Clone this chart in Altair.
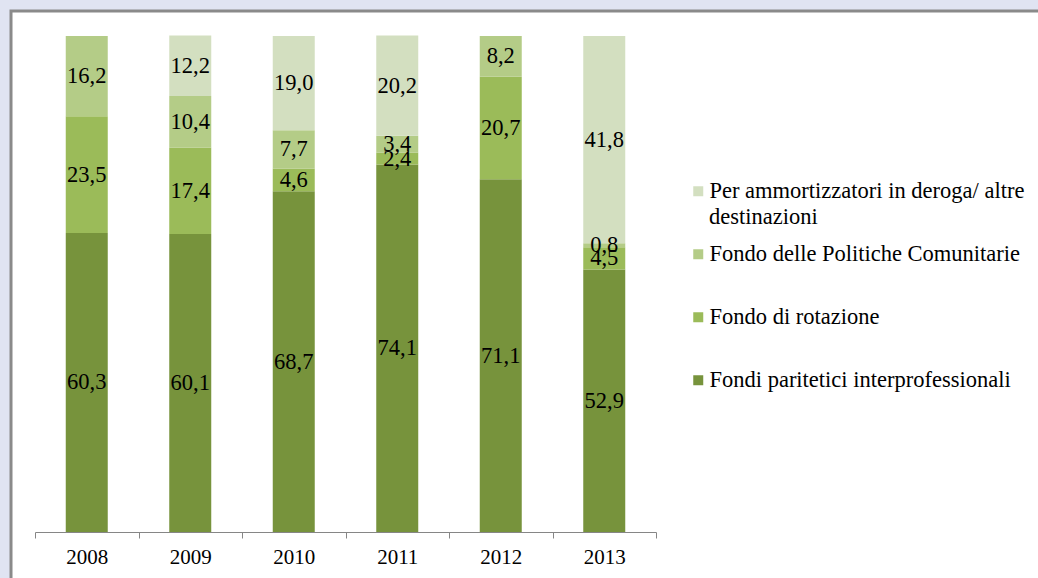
import altair as alt
import pandas as pd

years = ["2008", "2009", "2010", "2011", "2012", "2013"]
fondi_paritetici = [60.3, 60.1, 68.7, 74.1, 71.1, 52.9]
fondo_rotazione = [23.5, 17.4, 4.6, 2.4, 20.7, 4.5]
fondo_politiche = [16.2, 10.4, 7.7, 3.4, 8.2, 0.8]
ammortizzatori = [None, 12.2, 19.0, 20.2, None, 41.8]

# stacking order: bottom to top
series_names = [
    "Fondi paritetici interprofessionali",
    "Fondo di rotazione",
    "Fondo delle Politiche Comunitarie",
    "Per ammortizzatori in deroga/ altre destinazioni",
]
series_values = [fondi_paritetici, fondo_rotazione, fondo_politiche, ammortizzatori]
series_colors = ["#77933C", "#9BBB59", "#B4CC87", "#D3DFC0"]

# the long legend label is shown on two lines
legend_line1 = "Per ammortizzatori in deroga/ altre"
legend_line2 = "destinazioni"

rows = []
for i, yr in enumerate(years):
    for k, (name, vals) in enumerate(zip(series_names, series_values)):
        if vals[i] is not None:
            rows.append({"year": yr, "series": name, "value": vals[i], "order": k})
df = pd.DataFrame(rows)

legend_order = list(reversed(series_names))
legend_colors = list(reversed(series_colors))

SERIF = "Liberation Serif"

base = alt.Chart(df).transform_stack(
    stack="value",
    groupby=["year"],
    as_=["y0", "y1"],
    sort=[alt.SortField("order", order="ascending")],
).transform_calculate(
    mid="(datum.y0 + datum.y1) / 2",
    label="replace(format(datum.value, '.1f'), '.', ',')",
)

xenc = alt.X(
    "year:N",
    title=None,
    sort=years,
    scale=alt.Scale(paddingInner=0, paddingOuter=0),
    axis=alt.Axis(
        labelFont=SERIF,
        labelFontSize=21,
        labelColor="#000000",
        labelAngle=0,
        labelPadding=8,
        domainColor="#868686",
        domainWidth=1,
        tickColor="#868686",
        tickSize=6,
        tickBand="extent",
        grid=False,
        zindex=2,
    ),
)

yscale = alt.Scale(domain=[0, 100], nice=False, zero=True)

bars = base.mark_bar(size=42).encode(
    x=xenc,
    y=alt.Y("y0:Q", scale=yscale, axis=None),
    y2="y1:Q",
    color=alt.Color(
        "series:N",
        scale=alt.Scale(domain=legend_order, range=legend_colors),
        legend=alt.Legend(
            title=None,
            orient="none",
            legendX=648,
            legendY=144,
            symbolType="square",
            symbolSize=100,
            symbolStrokeWidth=0,
            symbolOffset=4,
            labelFont=SERIF,
            labelFontSize=22.5,
            labelColor="#000000",
            labelLimit=500,
            labelOffset=0,
            rowPadding=40,
            padding=0,
            labelExpr=f"datum.label == '{series_names[3]}' ? '{legend_line1}' : datum.label",
        ),
    ),
)

text = base.mark_text(font=SERIF, fontSize=22.5, color="#000000", baseline="middle").encode(
    x=xenc,
    y=alt.Y("mid:Q", scale=yscale, axis=None),
    text="label:N",
)

line2 = alt.Chart(alt.Data(values=[{"t": legend_line2}])).mark_text(
    font=SERIF, fontSize=22.5, color="#000000", align="left", baseline="middle"
).encode(x=alt.value(674), y=alt.value(181), text="t:N")

frame = alt.Chart(alt.Data(values=[{}])).mark_rect(
    fill="white", stroke="#8a8a8a", strokeWidth=3
).encode(
    x=alt.value(-24), y=alt.value(-25), x2=alt.value(1100), y2=alt.value(700)
)

chart = alt.layer(frame, bars, text, line2).properties(
    width=621,
    height=496,
    padding={"left": 35, "top": 36, "right": 382, "bottom": 46},
    autosize=alt.AutoSizeParams(type="none"),
    background="#E0E4F2",
).configure_view(stroke=None)

chart.save("out.html", embed_options={"renderer": "svg", "actions": False})
